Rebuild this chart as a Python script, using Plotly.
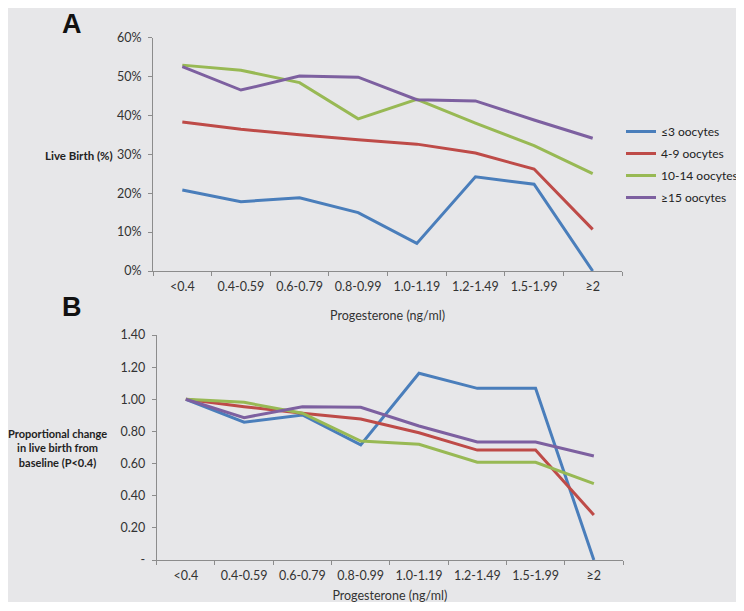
import plotly.graph_objects as go

categories = ["<0.4", "0.4-0.59", "0.6-0.79", "0.8-0.99", "1.0-1.19", "1.2-1.49", "1.5-1.99", "≥2"]
series_names = ["≤3 oocytes", "4-9 oocytes", "10-14 oocytes", "≥15 oocytes"]

live_birth_le3 = [0.208, 0.178, 0.188, 0.150, 0.071, 0.242, 0.223, 0.0]
live_birth_4_9 = [0.383, 0.364, 0.350, 0.337, 0.326, 0.303, 0.262, 0.107]
live_birth_10_14 = [0.529, 0.516, 0.484, 0.391, 0.441, 0.380, 0.322, 0.250]
live_birth_ge15 = [0.525, 0.465, 0.501, 0.498, 0.440, 0.437, 0.388, 0.341]

prop_le3 = [1.00, 0.857, 0.902, 0.716, 1.162, 1.068, 1.068, 0.0]
prop_4_9 = [1.00, 0.954, 0.913, 0.877, 0.792, 0.684, 0.684, 0.280]
prop_10_14 = [1.00, 0.981, 0.913, 0.740, 0.720, 0.608, 0.608, 0.475]
prop_ge15 = [1.00, 0.886, 0.954, 0.950, 0.834, 0.734, 0.734, 0.647]

a_ticks = [0, 0.1, 0.2, 0.3, 0.4, 0.5, 0.6]
a_ticktext = ["0%", "10%", "20%", "30%", "40%", "50%", "60%"]
b_ticks = [0, 0.2, 0.4, 0.6, 0.8, 1.0, 1.2, 1.4]
b_ticktext = ["-", "0.20", "0.40", "0.60", "0.80", "1.00", "1.20", "1.40"]

colors = ["#4A7EBB", "#BE4B48", "#98B954", "#7D60A0"]

# the page body has an 8px margin, so the figure is placed at (8, 8)
OFF = 8
W, H = 736, 595
FONT = "Lato"

fig = go.Figure()
panel_a = [live_birth_le3, live_birth_4_9, live_birth_10_14, live_birth_ge15]
panel_b = [prop_le3, prop_4_9, prop_10_14, prop_ge15]
for i, (name, vals) in enumerate(zip(series_names, panel_a)):
    fig.add_trace(go.Scatter(x=categories, y=vals, mode="lines", name=name,
                             line=dict(color=colors[i], width=3),
                             legendgroup=f"g{i}", xaxis="x", yaxis="y"))
for i, (name, vals) in enumerate(zip(series_names, panel_b)):
    fig.add_trace(go.Scatter(x=categories, y=vals, mode="lines", name=name,
                             line=dict(color=colors[i], width=3), showlegend=False,
                             legendgroup=f"g{i}", xaxis="x2", yaxis="y2"))

def px(x):
    return max(0.0, min(1.0, (x - OFF) / W))

def py(y):
    return max(0.0, min(1.0, 1 - (y - OFF) / H))

axis_common = dict(showline=True, linecolor="#8C8C8C", linewidth=1, ticks="outside",
                   tickcolor="#8C8C8C", ticklen=4, showgrid=False, zeroline=False,
                   automargin=False, ticklabelstandoff=4,
                   tickfont=dict(family=FONT, size=12.5, color="#333333"))

fig.update_layout(
    width=W, height=H,
    margin=dict(l=0, r=0, t=0, b=0, autoexpand=False),
    paper_bgcolor="white",
    plot_bgcolor="rgba(0,0,0,0)",
    font=dict(family=FONT, size=12, color="#222222"),
    showlegend=True,
    legend=dict(x=px(621), y=py(117), xanchor="left", yanchor="top",
                bgcolor="rgba(0,0,0,0)", font=dict(family=FONT, size=12, color="#222222"),
                tracegroupgap=3, itemwidth=30),
    xaxis=dict(axis_common, domain=[px(153), px(622)], anchor="y", type="category",
               range=[-0.5, 7.5], tickson="boundaries",
               title=dict(text="Progesterone (ng/ml)", font=dict(family=FONT, size=12.5, color="#333333"), standoff=18)),
    yaxis=dict(axis_common, domain=[py(271), py(37.5)], anchor="x", range=[0, 0.6],
               tickvals=a_ticks, ticktext=a_ticktext),
    xaxis2=dict(axis_common, domain=[px(156.7), px(623)], anchor="y2", type="category",
                range=[-0.5, 7.5], tickson="boundaries",
                title=dict(text="Progesterone (ng/ml)", font=dict(family=FONT, size=12.5, color="#333333"), standoff=14)),
    yaxis2=dict(axis_common, domain=[py(560), py(335)], anchor="x2", range=[0, 1.4],
                tickvals=b_ticks, ticktext=b_ticktext),
    shapes=[dict(type="rect", xref="paper", yref="paper", x0=px(6), x1=px(737), y0=py(602), y1=py(6),
                 fillcolor="#E7E7E9", line=dict(width=0), layer="below")],
    annotations=[
        dict(text="<b>A</b>", x=px(72), y=py(8), xref="paper", yref="paper", showarrow=False,
             xanchor="center", yanchor="top", borderpad=0,
             font=dict(family="Liberation Sans", size=27, color="#111111")),
        dict(text="<b>B</b>", x=px(72), y=py(307), xref="paper", yref="paper", showarrow=False,
             xanchor="center", yanchor="middle",
             font=dict(family="Liberation Sans", size=27, color="#111111")),
        dict(text="<b>Live Birth (%)</b>", x=px(115), y=py(155), xref="paper", yref="paper",
             xanchor="right", yanchor="middle", showarrow=False,
             font=dict(family=FONT, size=11.5, color="#222222")),
        dict(text="<b>Proportional change<br>in live birth from<br>baseline (P<0.4)</b>", x=px(57), y=py(448),
             xref="paper", yref="paper", showarrow=False, align="center",
             xanchor="center", yanchor="middle",
             font=dict(family=FONT, size=11, color="#222222")),
    ],
)

fig.write_html("out.html")
